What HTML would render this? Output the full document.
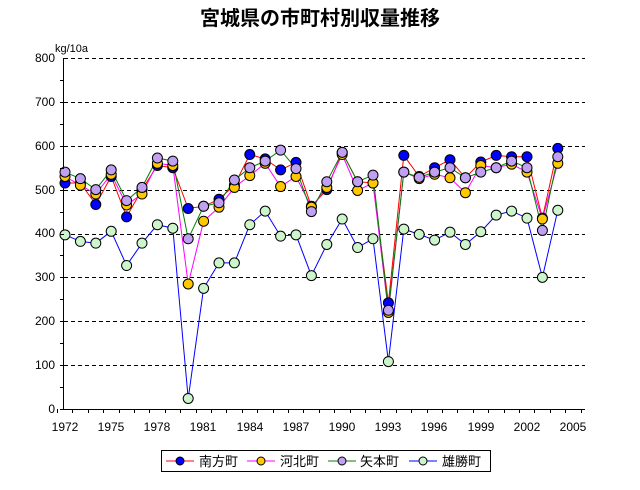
<!DOCTYPE html>
<html><head><meta charset="utf-8"><style>
body{margin:0;background:#fff}
text{font-family:"Liberation Sans","Noto Sans CJK JP",sans-serif}
</style></head><body>
<svg id="s" width="640" height="485" viewBox="0 0 640 485" xmlns="http://www.w3.org/2000/svg">
<rect width="640" height="485" fill="#fff"/>
<text x="320" y="25" text-anchor="middle" font-size="20" font-weight="bold" style="font-family:'Noto Sans CJK JP',sans-serif">宮城県の市町村別収量推移</text>
<text x="55" y="52" font-size="11">kg/10a</text>
<g id="grid" stroke="#000" stroke-dasharray="4,3" stroke-width="1"></g>
<line x1="63.5" y1="58" x2="63.5" y2="409" stroke="#000"/>
<line x1="63" y1="409.5" x2="585" y2="409.5" stroke="#000"/>
<g font-size="12" text-anchor="end">
<text x="55" y="413">0</text><text x="55" y="369">100</text><text x="55" y="325">200</text><text x="55" y="281">300</text><text x="55" y="237">400</text><text x="55" y="194">500</text><text x="55" y="150">600</text><text x="55" y="106">700</text><text x="55" y="62">800</text>
</g>
<g font-size="12" text-anchor="middle">
<text x="65" y="431">1972</text><text x="111" y="431">1975</text><text x="157" y="431">1978</text><text x="203" y="431">1981</text><text x="250" y="431">1984</text><text x="296" y="431">1987</text><text x="342" y="431">1990</text><text x="388" y="431">1993</text><text x="434" y="431">1996</text><text x="481" y="431">1999</text><text x="527" y="431">2002</text><text x="573" y="431">2005</text>
</g>
<g id="ser"></g>
<rect x="161.5" y="450.5" width="329" height="21" fill="none" stroke="#000"/>
<g font-size="13" style="font-family:'Noto Sans CJK JP',sans-serif">
<text x="199" y="466">南方町</text><text x="280" y="466">河北町</text><text x="360" y="466">矢本町</text><text x="442" y="466">雄勝町</text>
</g>
<g id="leg"></g>
</svg>
<script>
var NS="http://www.w3.org/2000/svg";
function el(p,t,a){var e=document.createElementNS(NS,t);for(var k in a)e.setAttribute(k,a[k]);p.appendChild(e);return e;}
var g=document.getElementById('grid');
for(var v=100;v<=800;v+=100){var y=Math.round(409-v*0.43875)+0.5;el(g,'line',{x1:64,y1:y,x2:585,y2:y});}
var ax=document.getElementById('s');
for(var i=0;i<=34;i++){var x=Math.round(57+15.4*i)+0.5;el(ax,'line',{x1:x,y1:409,x2:x,y2:413,stroke:'#000'});}
for(var v=0;v<800;v+=50){var y=Math.round(409-v*0.43875)+0.5;el(ax,'line',{x1:60,y1:y,x2:64,y2:y,stroke:'#000'});}
var S=[
{l:'#00c000',c:'#c0a0f0',lc:'green',d:[540,525,500,545,475,505,572,565,388,462,470,522,550,565,590,548,450,518,585,518,533,225,540,528,540,550,527,540,550,565,550,407,575]},
{l:'#ff00ff',c:'#ffc800',d:[530,510,490,535,465,490,560,555,285,428,460,505,532,560,507,530,460,505,580,498,515,220,540,525,535,527,493,555,550,558,540,433,560]},
{l:'#ff0000',c:'#0000ff',d:[515,515,466,530,438,500,555,550,457,462,478,510,580,570,545,562,462,500,585,518,515,242,578,530,550,568,527,563,578,575,575,435,594]},
{l:'#0000ff',c:'#ccf5cc',d:[397,382,378,405,327,378,420,412,24,275,333,333,420,451,394,397,304,375,433,368,388,108,410,398,385,403,375,404,442,451,435,300,453]}
];
S[0].l='green';
var ser=document.getElementById('ser');
var order=[3,2,1,0];
// draw lines
[S[3],S[2],S[1],S[0]].forEach(function(s){var p=s.d.map(function(v,i){return (65+15.4*i).toFixed(1)+','+(409-v*0.43875).toFixed(1)}).join(' ');el(ser,'polyline',{points:p,fill:'none',stroke:s.l,'stroke-width':1});});
[S[3],S[2],S[1],S[0]].forEach(function(s){s.d.forEach(function(v,i){el(ser,'circle',{cx:65+15.4*i,cy:409-v*0.43875,r:5,fill:s.c,stroke:'#000','stroke-width':1});});});
var leg=document.getElementById('leg');
[[166,S[2]],[247,S[1]],[328,S[0]],[409,S[3]]].forEach(function(a){el(leg,'line',{x1:a[0],y1:461,x2:a[0]+28,y2:461,stroke:a[1].l});el(leg,'circle',{cx:a[0]+14,cy:461,r:4,fill:a[1].c,stroke:'#000'});});
</script>
</body></html>
